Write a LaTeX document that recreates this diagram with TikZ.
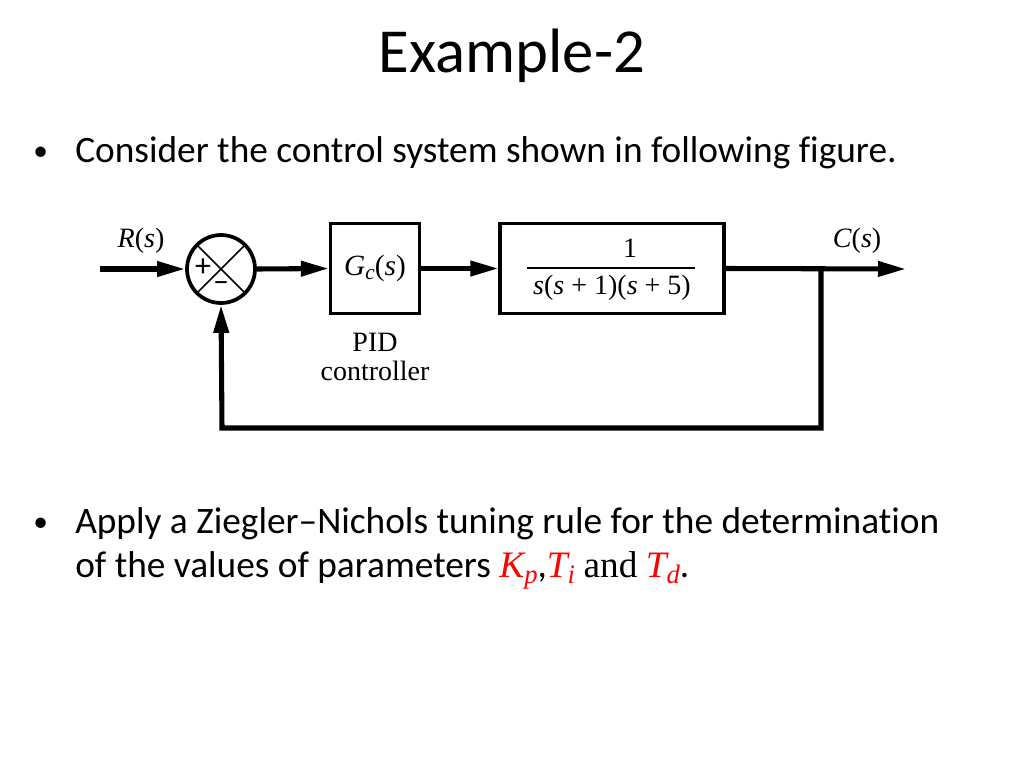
\documentclass[tikz,border=0pt]{standalone}
\usepackage{fontspec}
\setmainfont{Carlito}[Ligatures=NoCommon]
\newfontfamily\timesf{Liberation Serif}
\usetikzlibrary{arrows.meta}
\begin{document}
\begin{tikzpicture}[x=0.75pt,y=-0.75pt,
  sig/.style={line width=3.8pt,-{Triangle[length=21pt,width=11pt]}},
  blk/.style={draw,line width=2.3pt,minimum width=67pt,minimum height=67pt,inner sep=0pt,font=\timesf\fontsize{22}{24}\selectfont},
  lbl/.style={font=\timesf\fontsize{21}{24}\selectfont,inner sep=0pt},
  slide/.style={font=\fontsize{28}{34}\selectfont,inner sep=0pt,anchor=base west}]
\useasboundingbox (0,0) rectangle (1024,768);
% title and text
\node[font=\fontsize{47}{56}\selectfont,inner sep=0pt,anchor=base] (title) at (512,72) {Example-2};
\node[font=\fontsize{22}{26}\selectfont,inner sep=0pt,anchor=base west] (b1) at (33,160) {•};
\node[slide] (t1) at (75,162) {Consider the control system shown in following figure.};
\node[font=\fontsize{22}{26}\selectfont,inner sep=0pt,anchor=base west] (b2) at (33,531) {•};
\node[slide] (t2) at (75,533) {Apply a Ziegler–Nichols tuning rule for the determination};
\node[slide] (t3) at (75,577) {of the values of parameters {\color{red}\timesf\itshape K\raisebox{-5pt}{\fontsize{20}{24}\selectfont p}},{\color{red}\timesf\itshape T\raisebox{-5pt}{\fontsize{20}{24}\selectfont i}} {\timesf and} {\color{red}\timesf\itshape T\raisebox{-5pt}{\fontsize{20}{24}\selectfont d}}.};
% diagram
\coordinate (in) at (100,269);
\node[draw,circle,line width=2.8pt,minimum size=51pt,inner sep=0pt] (sum) at (221,269) {};
\draw[line width=1.3pt] (sum.north west) -- (sum.south east) (sum.north east) -- (sum.south west);
\node[font=\fontsize{24}{26}\selectfont,inner sep=0pt] (plus) at (203,268) {+};
\node[font=\fontsize{24}{26}\selectfont,inner sep=0pt] (minus) at (221,287) {\textendash};
\node[blk] (gc) at (375,268.5) {\textit{G}\raisebox{-3pt}{\fontsize{16}{18}\selectfont\textit{c}}(\textit{s})};
\node[draw,line width=2.3pt,minimum width=168pt,minimum height=67pt,inner sep=0pt] (plant) at (612,268.5) {};
\node[lbl] (num) at (630,248) {1};
\draw[line width=1.2pt] (527,268) -- (695,268);
\node[lbl] (den) at (612,288) {\textit{s}(\textit{s} + 1)(\textit{s} + 5)};
\coordinate (out) at (906,269);
\coordinate (br) at (821,269);
\coordinate (fb1) at (821,428);
\coordinate (fb2) at (222,428);
\node[lbl] (rs) at (141,241) {\textit{R}(\textit{s})};
\node[lbl] (cs) at (857,241) {\textit{C}(\textit{s})};
\node[lbl,align=center] (pid) at (375,357) {PID\\[-2pt]controller};
\draw[sig] (in) -- (sum.west);
\draw[sig] (sum.east) -- (gc.west);
\draw[sig] (gc.east) -- (plant.west);
\draw[sig] (plant.east) -- (out);
\draw[sig] (br) -- (fb1) -- (fb2) -- (sum.south);
\end{tikzpicture}
\end{document}
